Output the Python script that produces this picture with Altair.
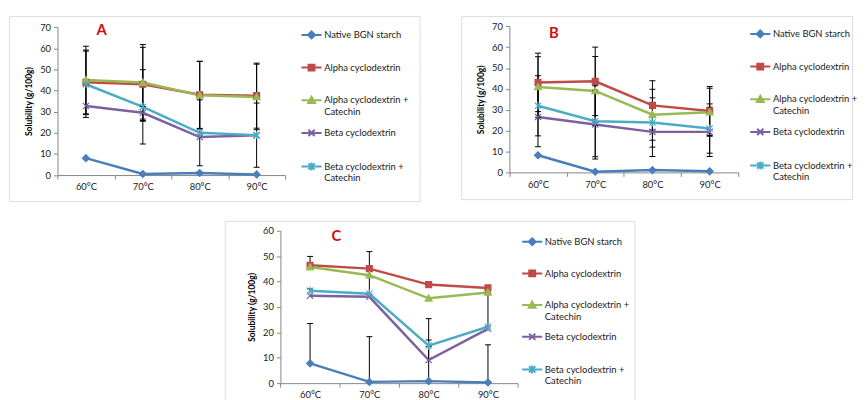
import altair as alt
import pandas as pd

series = ["Native BGN starch", "Alpha cyclodextrin", "Alpha cyclodextrin + Catechin",
          "Beta cyclodextrin", "Beta cyclodextrin + Catechin"]
temps = [60, 70, 80, 90]
temp_labels = ["60°C", "70°C", "80°C", "90°C"]
colors = ["#4A7EBB", "#BE4B48", "#98B954", "#7D60A0", "#4BACC6"]

# Panel A values (g/100g) and error bars (symmetric)
a_native = [8.0, 0.5, 1.0, 0.3]
a_alpha = [43.9, 43.0, 38.0, 37.6]
a_alpha_cat = [45.0, 43.8, 37.8, 37.0]
a_beta = [32.7, 29.5, 18.0, 18.8]
a_beta_cat = [43.0, 32.3, 20.0, 18.9]
a_err_native = [0, 0, 0, 0]
a_err_alpha = [15.3, 17.5, 15.9, 15.4]
a_err_alpha_cat = [16.0, 18.0, 16.0, 15.5]
a_err_beta = [0, 3.0, 0, 0]
a_err_beta_cat = [15.7, 17.6, 15.6, 15.2]

# Panel B
b_native = [8.2, 0.3, 1.1, 0.5]
b_alpha = [43.1, 43.6, 32.1, 29.4]
b_alpha_cat = [40.9, 39.0, 27.6, 28.8]
b_beta = [26.5, 22.9, 19.4, 19.4]
b_beta_cat = [31.9, 24.5, 23.9, 21.0]
b_err_native = [0, 0, 0, 0]
b_err_alpha = [14.0, 16.4, 11.8, 11.7]
b_err_alpha_cat = [14.5, 16.5, 12.2, 11.5]
b_err_beta = [14.2, 16.5, 11.8, 11.8]
b_err_beta_cat = [14.4, 17.0, 11.8, 11.8]

# Panel C (plus-direction error bars)
c_native = [7.8, 0.5, 0.8, 0.3]
c_alpha = [46.4, 45.1, 38.8, 37.5]
c_alpha_cat = [45.7, 42.5, 33.4, 35.7]
c_beta = [34.4, 34.0, 9.1, 21.4]
c_beta_cat = [36.4, 35.2, 14.8, 22.2]
c_err_native = [15.7, 17.8, 24.6, 14.8]
c_err_alpha = [3.5, 6.7, 0, 0]
c_err_alpha_cat = [0, 0, 0, 0]
c_err_beta = [0, 0, 5.3, 0]
c_err_beta_cat = [0.7, 9.1, 2.2, 13.5]

FONT = "Lato"
marker_paths = [
    "M-1,0L0,-1L1,0L0,1Z",
    "M-0.85,-0.85H0.85V0.85H-0.85Z",
    "M0,-1L1,0.8H-1Z",
    "M-0.9,-0.9L0.9,0.9M-0.9,0.9L0.9,-0.9",
    "M-0.9,-0.9L0.9,0.9M-0.9,0.9L0.9,-0.9M0,-1.15V1.15",
]
# legend symbols: short line with the marker, raised to sit on the first label line
legend_paths = [
    "M-2.9,-0.9H2.9M-1,-0.9L0,-1.9L1,-0.9L0,0.1Z",
    "M-2.9,-0.9H2.9M-0.85,-1.75H0.85V-0.05H-0.85Z",
    "M-2.9,-0.9H2.9M0,-1.9L1,-0.1H-1Z",
    "M-2.9,-0.9H2.9M-0.9,-1.8L0.9,0M-0.9,0L0.9,-1.8",
    "M-2.9,-0.9H2.9M-0.9,-1.8L0.9,0M-0.9,0L0.9,-1.8M0,-2.05V0.25",
]

label_expr = ("indexof(datum.label, ' + ') >= 0 ? "
              "split(replace(datum.label, ' + ', ' +|'), '|') : [datum.label, ' ']")
xlabel_expr = ("datum.value < 95 ? [" + ",".join(f"'{t}'" for t in temp_labels)
               + "][(datum.value - 55) / 10] : ''")


def panel(letter, vals, errs, mode, ymax, g):
    rows = []
    for si, name in enumerate(series):
        for ti, t in enumerate(temps):
            v = vals[si][ti]
            e = errs[si][ti]
            if mode == "both":
                lo = max(v - e, 0)
                cap_lo = v - e if (e > 0 and v - e >= 0) else None
            else:
                lo = v
                cap_lo = None
            rows.append(dict(series=name, temp=t, value=v, err=e, lo=lo, hi=v + e, cap_lo=cap_lo))
    df = pd.DataFrame(rows)

    xscale = alt.Scale(domain=[55, 95], range=[g["ax"], g["xend"]], nice=False, zero=False)
    yscale = alt.Scale(domain=[0, ymax], range=[g["y0"], g["ytop"]], nice=False, zero=True)
    xaxis = alt.Axis(values=[55, 65, 75, 85, 95], labelExpr=xlabel_expr,
                     labelOffset=(g["xend"] - g["ax"]) / 8, tickSize=4,
                     offset=-(g["h"] - g["y0"]), labelFlush=False, labelOverlap=False,
                     labelBound=False, labelPadding=3, title=None, grid=False,
                     domainColor="#868686", tickColor="#868686",
                     labelFont=FONT, labelFontSize=9.5, labelColor="#1a1a1a")
    yaxis = alt.Axis(values=list(range(0, ymax + 1, 10)), offset=-g["ax"], tickSize=4,
                     labelPadding=3, grid=False, domainColor="#868686", tickColor="#868686",
                     labelFont=FONT, labelFontSize=9.5, labelColor="#1a1a1a",
                     title="Solubility (g/100g)", titleFont=FONT, titleFontSize=8.5,
                     titleFontWeight="bold", titleColor="#000000", titlePadding=6)
    X = alt.X("temp:Q", scale=xscale, axis=xaxis)
    Yv = alt.Y("value:Q", scale=yscale, axis=yaxis)
    cscale = alt.Scale(domain=series, range=colors)

    base = alt.Chart(df)
    lines = [base.transform_filter(alt.datum.series == name).mark_line(
        strokeWidth=2.5, color=colors[si]).encode(x=X, y=Yv, order=alt.Order("temp:Q"))
        for si, name in enumerate(series)]
    rules = base.transform_filter("datum.err > 0").mark_rule(color="black", strokeWidth=1).encode(
        x=X, y=alt.Y("lo:Q", scale=yscale, axis=yaxis), y2="hi:Q")
    cap_hi = base.transform_filter("datum.err > 0").mark_tick(
        orient="horizontal", size=6, thickness=1, color="black", opacity=1).encode(
        x=X, y=alt.Y("hi:Q", scale=yscale, axis=yaxis))
    cap_lo = base.transform_filter("isValid(datum.cap_lo)").mark_tick(
        orient="horizontal", size=6, thickness=1, color="black", opacity=1).encode(
        x=X, y=alt.Y("cap_lo:Q", scale=yscale, axis=yaxis))
    markers = [base.transform_filter(alt.datum.series == name).mark_point(
        shape=marker_paths[si], size=49, fill=colors[si], stroke=colors[si],
        strokeWidth=1.2, opacity=1, filled=False).encode(x=X, y=Yv)
        for si, name in enumerate(series)]

    letter_layer = alt.Chart(pd.DataFrame({"label": [letter]})).mark_text(
        font=FONT, fontSize=15, fontWeight="bold", color="#D01010").encode(
        text="label:N", x=alt.value(g["tx"]), y=alt.value(g["ty"]))

    leg = alt.Legend(
        title=None, orient="none", legendX=g["lx"], legendY=g["ly"], direction="vertical",
        labelExpr=label_expr, labelFont=FONT, labelFontSize=9.5, labelColor="#1a1a1a",
        labelBaseline="alphabetic", labelOffset=8, labelLimit=300, rowPadding=g["rp"],
        symbolSize=49, symbolStrokeWidth=2, padding=0)
    legend_layer = base.transform_filter("datum.temp > 1000").mark_point(opacity=1).encode(
        x=X, y=Yv,
        fill=alt.Fill("series:N", scale=cscale, legend=leg),
        stroke=alt.Stroke("series:N", scale=cscale, legend=leg),
        shape=alt.Shape("series:N", scale=alt.Scale(domain=series, range=legend_paths), legend=leg))

    return alt.layer(*lines, rules, cap_hi, cap_lo, *markers, letter_layer, legend_layer).properties(
        width=g["w"], height=g["h"])


gA = dict(w=415, h=187, ax=49, xend=279, y0=160.7, ytop=11.3, tx=93.6, ty=14, lx=301, ly=17.5, rp=9)
gB = dict(w=395, h=185, ax=48.7, xend=280, y0=158, ytop=10.3, tx=93.7, ty=17, lx=297.5, ly=16.5, rp=9)
gC = dict(w=414, h=187, ax=56.3, xend=296, y0=164, ytop=10, tx=113, ty=15, lx=306, ly=19.5, rp=8)

A = panel("A", [a_native, a_alpha, a_alpha_cat, a_beta, a_beta_cat],
          [a_err_native, a_err_alpha, a_err_alpha_cat, a_err_beta, a_err_beta_cat], "both", 70, gA)
B = panel("B", [b_native, b_alpha, b_alpha_cat, b_beta, b_beta_cat],
          [b_err_native, b_err_alpha, b_err_alpha_cat, b_err_beta, b_err_beta_cat], "both", 70, gB)
C = panel("C", [c_native, c_alpha, c_alpha_cat, c_beta, c_beta_cat],
          [c_err_native, c_err_alpha, c_err_alpha_cat, c_err_beta, c_err_beta_cat], "plus", 60, gC)

spacer = alt.Chart(pd.DataFrame({"s": [0]})).mark_point(opacity=0).encode(
    x=alt.X("s:Q", axis=None), y=alt.Y("s:Q", axis=None)
).properties(width=217, height=10, view=alt.ViewBackground(strokeOpacity=0))

res = dict(fill="independent", stroke="independent", shape="independent",
           x="independent", y="independent")
top = alt.hconcat(A, B, spacing=40).resolve_scale(**res)
bottom = alt.hconcat(spacer, C, spacing=0).resolve_scale(**res)
chart = alt.vconcat(top, bottom, spacing=18).resolve_scale(**res).properties(
    padding={"left": 0, "top": 5, "right": 0, "bottom": 0}
).configure_view(stroke="#8c8c8c", strokeWidth=1).configure(background="white")

chart.save("out.html", embed_options={"renderer": "svg", "actions": False})
